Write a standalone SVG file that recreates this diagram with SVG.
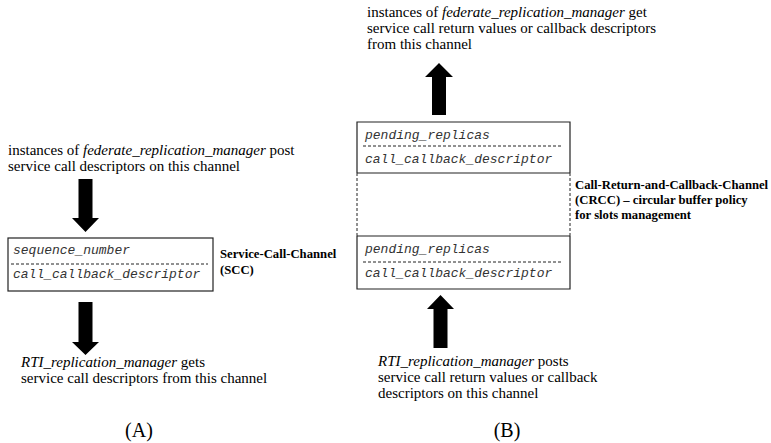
<svg xmlns="http://www.w3.org/2000/svg" width="771" height="443" viewBox="0 0 771 443">
  <style>
    .txt { font-family: "Liberation Serif", Tinos, "Times New Roman", Times, serif; font-size: 15px; fill: #000; }
    .it { font-style: italic; }
    .lbl { font-family: "Liberation Serif", Tinos, "Times New Roman", Times, serif; font-size: 12.7px; font-weight: bold; fill: #000; }
    .cap { font-family: "Liberation Serif", Tinos, "Times New Roman", Times, serif; font-size: 20px; fill: #000; }
    .mono { font-family: "Liberation Mono", Cousine, "Courier New", Courier, monospace; font-size: 13px; font-style: italic; fill: #333; }
    .box { fill: none; stroke: #222; stroke-width: 1.2; }
    .sep { fill: none; stroke: #222; stroke-width: 1; stroke-dasharray: 3 2; }
    .arrow { fill: #000; stroke: none; }
  </style>

  <rect width="771" height="443" fill="#fff"/>

  <!-- (A) Service-Call-Channel -->
  <g id="scc">
    <rect class="box" x="8" y="238" width="205" height="53"/>
    <text class="mono" x="13" y="254">sequence_number</text>
    <line class="sep" x1="11" y1="264" x2="208" y2="264"/>
    <text class="mono" x="13" y="278">call_callback_descriptor</text>
  </g>
  <g id="scc-label">
    <text class="lbl" x="220" y="258">Service-Call-Channel</text>
    <text class="lbl" x="220" y="274">(SCC)</text>
  </g>
  <g id="scc-writer">
    <text class="txt" x="8" y="155">instances of <tspan class="it">federate_replication_manager</tspan> post</text>
    <text class="txt" x="8" y="171">service call descriptors on this channel</text>
  </g>
  <g id="scc-reader">
    <text class="txt" x="21" y="367"><tspan class="it">RTI_replication_manager</tspan> gets</text>
    <text class="txt" x="21" y="383">service call descriptors from this channel</text>
  </g>
  <g id="caption-a">
    <text class="cap" x="139" y="437" text-anchor="middle">(A)</text>
  </g>

  <!-- (B) Call-Return-and-Callback-Channel -->
  <g id="crcc">
    <!-- first slot -->
    <path class="box" d="M357,173 V122 H570 V173"/>
    <text class="mono" x="365" y="139">pending_replicas</text>
    <line class="sep" x1="363" y1="146" x2="563" y2="146"/>
    <text class="mono" x="365" y="163">call_callback_descriptor</text>
    <line class="box" x1="357" y1="173" x2="570" y2="173"/>
    <!-- free slots -->
    <line class="sep" x1="357" y1="173" x2="357" y2="236"/>
    <line class="sep" x1="570" y1="173" x2="570" y2="236"/>
    <!-- last slot -->
    <line class="box" x1="357" y1="236" x2="570" y2="236"/>
    <path class="box" d="M357,236 V289 H570 V236"/>
    <text class="mono" x="365" y="253">pending_replicas</text>
    <line class="sep" x1="363" y1="262" x2="563" y2="262"/>
    <text class="mono" x="365" y="277">call_callback_descriptor</text>
  </g>
  <g id="crcc-label">
    <text class="lbl" x="575" y="189">Call-Return-and-Callback-Channel</text>
    <text class="lbl" x="575" y="204">(CRCC) – circular buffer policy</text>
    <text class="lbl" x="575" y="219">for slots management</text>
  </g>
  <g id="crcc-reader">
    <text class="txt" x="367" y="17">instances of <tspan class="it">federate_replication_manager</tspan> get</text>
    <text class="txt" x="367" y="33">service call return values or callback descriptors</text>
    <text class="txt" x="367" y="49">from this channel</text>
  </g>
  <g id="crcc-writer">
    <text class="txt" x="378" y="366"><tspan class="it">RTI_replication_manager</tspan> posts</text>
    <text class="txt" x="378" y="382">service call return values or callback</text>
    <text class="txt" x="378" y="398">descriptors on this channel</text>
  </g>
  <g id="caption-b">
    <text class="cap" x="507" y="437" text-anchor="middle">(B)</text>
  </g>

  <!-- block arrows between the actors and the channels -->
  <g id="connectors">
    <path class="arrow" d="M78.5,179 H92.5 V218 H99 L85.5,232 L72,218 H78.5 Z"/>
    <path class="arrow" d="M78.5,302 H92.5 V342 H99 L85.5,355 L72,342 H78.5 Z"/>
    <path class="arrow" d="M432,115 H446 V77 H453 L439,63 L425,77 H432 Z"/>
    <path class="arrow" d="M433.5,348 H447.5 V309 H454 L440.5,295 L427,309 H433.5 Z"/>
  </g>
</svg>
